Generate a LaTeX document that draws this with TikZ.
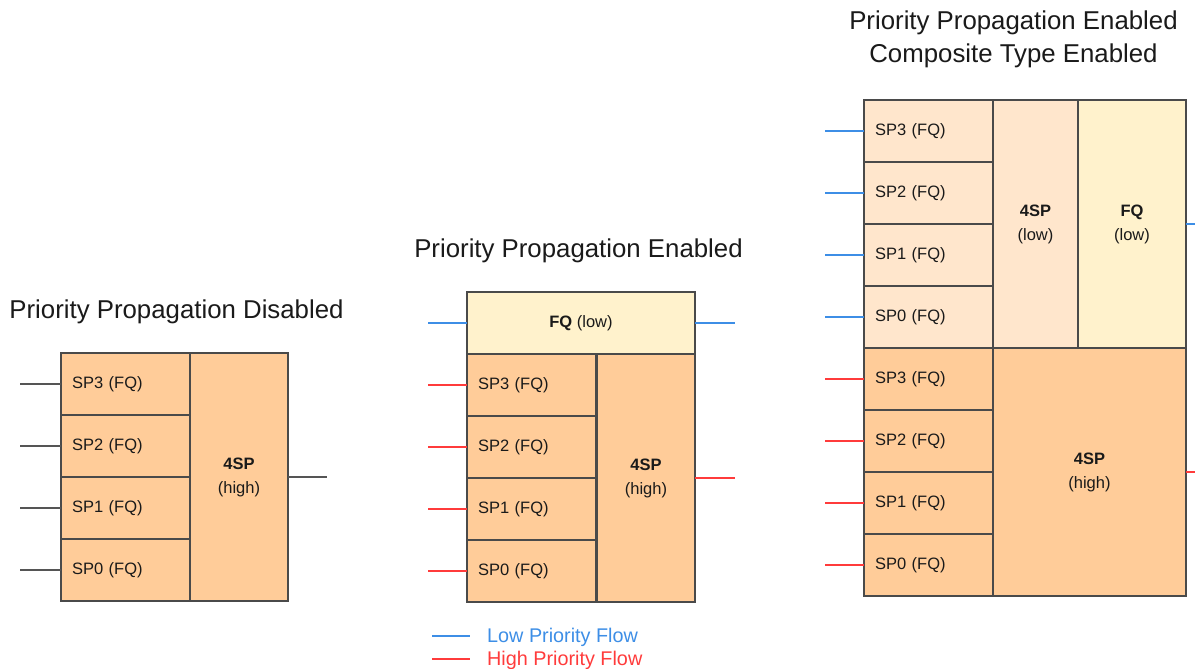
\documentclass[tikz,border=0pt]{standalone}
\usepackage{fontspec}
\setmainfont{Liberation Sans}
\definecolor{orng}{HTML}{FFCC99}
\definecolor{peach}{HTML}{FFE6CC}
\definecolor{ylw}{HTML}{FFF2CC}
\definecolor{bdr}{HTML}{4A4A4A}
\definecolor{gcol}{HTML}{555555}
\definecolor{bcol}{HTML}{3D8EE6}
\definecolor{rcol}{HTML}{FF3B3B}
\definecolor{txt}{HTML}{1A1A1A}
\begin{document}
\begin{tikzpicture}[x=1pt,y=-1pt,
  box/.style={draw=bdr, line width=1.3pt, anchor=north west, inner sep=0pt, outer sep=0pt,
    font=\fontsize{16.5}{24}\selectfont, text=txt},
  cellbox/.style={box, minimum height=62pt, text width=107pt, inner xsep=11pt, align=left},
  colbox/.style={box, align=center},
  title/.style={font=\fontsize{25.8}{33}\selectfont, text=txt, align=center, inner sep=0pt},
  gflow/.style={draw=gcol, line width=2pt},
  bflow/.style={draw=bcol, line width=2pt},
  rflow/.style={draw=rcol, line width=2pt},
  legtext/.style={anchor=west, inner sep=0pt, font=\fontsize{19.8}{22}\selectfont}
]
\useasboundingbox (0,0) rectangle (1195,669);
\clip (0,0) rectangle (1195,669);

% ---------- Diagram 1 ----------
\node[title] (t1) at (176.5,312) {Priority Propagation Disabled};
\node[cellbox, fill=orng] (a3) at (61,353) {SP3 (FQ)};
\node[cellbox, fill=orng] (a2) at (61,415) {SP2 (FQ)};
\node[cellbox, fill=orng] (a1) at (61,477) {SP1 (FQ)};
\node[cellbox, fill=orng] (a0) at (61,539) {SP0 (FQ)};
\node[colbox, fill=orng, minimum width=98pt, minimum height=248pt] (ah) at (190,353) {\textbf{4SP}\\(high)};
\draw[gflow] (a3.west) -- ++(-41,0);
\draw[gflow] (a2.west) -- ++(-41,0);
\draw[gflow] (a1.west) -- ++(-41,0);
\draw[gflow] (a0.west) -- ++(-41,0);
\draw[gflow] (ah.east) -- ++(39,0);

% ---------- Diagram 2 ----------
\node[title] (t2) at (578.5,251) {Priority Propagation Enabled};
\node[colbox, fill=ylw, minimum width=228pt, minimum height=62pt] (bf) at (467,292) {\textbf{FQ} (low)};
\node[cellbox, fill=orng] (b3) at (467,354) {SP3 (FQ)};
\node[cellbox, fill=orng] (b2) at (467,416) {SP2 (FQ)};
\node[cellbox, fill=orng] (b1) at (467,478) {SP1 (FQ)};
\node[cellbox, fill=orng] (b0) at (467,540) {SP0 (FQ)};
\node[colbox, fill=orng, minimum width=98pt, minimum height=248pt] (bh) at (597,354) {\textbf{4SP}\\(high)};
\draw[bflow] (bf.west) -- ++(-39,0);
\draw[bflow] (bf.east) -- ++(40,0);
\draw[rflow] (b3.west) -- ++(-39,0);
\draw[rflow] (b2.west) -- ++(-39,0);
\draw[rflow] (b1.west) -- ++(-39,0);
\draw[rflow] (b0.west) -- ++(-39,0);
\draw[rflow] (bh.east) -- ++(40,0);

% ---------- Diagram 3 ----------
\node[title] (t3) at (1013.5,39.5) {Priority Propagation Enabled\\Composite Type Enabled};
\node[cellbox, fill=peach] (c7) at (864,100) {SP3 (FQ)};
\node[cellbox, fill=peach] (c6) at (864,162) {SP2 (FQ)};
\node[cellbox, fill=peach] (c5) at (864,224) {SP1 (FQ)};
\node[cellbox, fill=peach] (c4) at (864,286) {SP0 (FQ)};
\node[colbox, fill=peach, minimum width=85pt, minimum height=248pt] (cl) at (993,100) {\textbf{4SP}\\(low)};
\node[colbox, fill=ylw, minimum width=108pt, minimum height=248pt] (cf) at (1078,100) {\textbf{FQ}\\(low)};
\node[cellbox, fill=orng] (c3) at (864,348) {SP3 (FQ)};
\node[cellbox, fill=orng] (c2) at (864,410) {SP2 (FQ)};
\node[cellbox, fill=orng] (c1) at (864,472) {SP1 (FQ)};
\node[cellbox, fill=orng] (c0) at (864,534) {SP0 (FQ)};
\node[colbox, fill=orng, minimum width=193pt, minimum height=248pt] (ch) at (993,348) {\textbf{4SP}\\(high)};
\draw[bflow] (c7.west) -- ++(-39,0);
\draw[bflow] (c6.west) -- ++(-39,0);
\draw[bflow] (c5.west) -- ++(-39,0);
\draw[bflow] (c4.west) -- ++(-39,0);
\draw[bflow] (cf.east) -- ++(20,0);
\draw[rflow] (c3.west) -- ++(-39,0);
\draw[rflow] (c2.west) -- ++(-39,0);
\draw[rflow] (c1.west) -- ++(-39,0);
\draw[rflow] (c0.west) -- ++(-39,0);
\draw[rflow] (ch.east) -- ++(20,0);

% ---------- Legend ----------
\coordinate (lba) at (432,636);
\coordinate (lbb) at (470,636);
\coordinate (lra) at (432,659);
\coordinate (lrb) at (470,659);
\draw[bflow] (lba) -- (lbb);
\draw[rflow] (lra) -- (lrb);
\node[legtext, text=bcol] (lg1) at (487,637) {Low Priority Flow};
\node[legtext, text=rcol] (lg2) at (487,660) {High Priority Flow};
\end{tikzpicture}
\end{document}
